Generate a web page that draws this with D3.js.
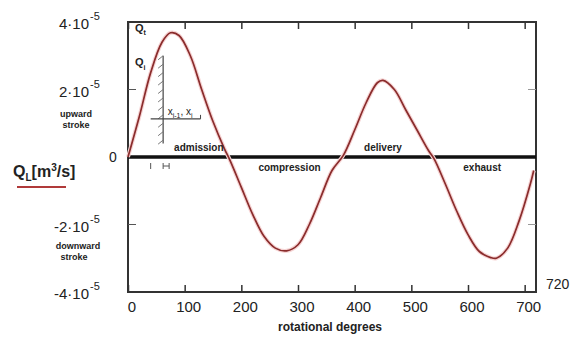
<!DOCTYPE html>
<html>
<head>
<meta charset="utf-8">
<script src="https://cdn.jsdelivr.net/npm/d3@7"></script>
<style>
  body { margin: 0; background: #fff; }
  text { font-family: "Liberation Sans", Arial, sans-serif; fill: #222; }
</style>
</head>
<body>
<div id="chart"></div>
<script>
// rotational degrees and flow rate (units of 1e-5 m^3/s)
const degrees = [0, 20, 40, 60, 75, 90, 110, 130, 150, 170, 180, 200, 220, 240, 260, 280, 300, 320, 340, 360,
  380, 400, 420, 440, 450, 470, 490, 510, 530, 540, 560, 580, 600, 620, 640, 650, 670, 690, 710, 716];
const flow = [0, 1.2, 2.5, 3.4, 3.68, 3.6, 3.0, 2.0, 1.05, 0.25, -0.1, -0.9, -1.7, -2.35, -2.7, -2.78, -2.6, -2.0, -1.2, -0.4,
  0.05, 0.8, 1.6, 2.2, 2.27, 2.0, 1.4, 0.8, 0.2, -0.05, -0.8, -1.6, -2.3, -2.8, -2.98, -3.0, -2.7, -1.9, -0.8, -0.4];
const xTicks = [0, 100, 200, 300, 400, 500, 600, 700];
const yTicks = [4, 2, 0, -2, -4];
const phases = [
  { name: "admission", deg: 125, side: "up" },
  { name: "compression", deg: 285, side: "down" },
  { name: "delivery", deg: 450, side: "up" },
  { name: "exhaust", deg: 625, side: "down" }
];

const width = 572, height = 343;
const svg = d3.select("#chart").append("svg")
  .attr("width", width).attr("height", height);

const x = d3.scaleLinear().domain([0, 720]).range([128, 536]);
const y = d3.scaleLinear().domain([-4, 4]).range([292, 22]);

// frame
svg.append("rect")
  .attr("x", x(0)).attr("y", y(4))
  .attr("width", x(720) - x(0)).attr("height", y(-4) - y(4))
  .attr("fill", "none").attr("stroke", "#333").attr("stroke-width", 2);

// bottom and top ticks, pointing inward
svg.append("g")
  .attr("transform", `translate(0,${y(-4)})`)
  .call(d3.axisBottom(x).tickValues(xTicks).tickSize(-7).tickFormat(""))
  .call(g => g.select(".domain").remove());
svg.append("g")
  .attr("transform", `translate(0,${y(4)})`)
  .call(d3.axisTop(x).tickValues(xTicks).tickSize(-7).tickFormat(""))
  .call(g => g.select(".domain").remove());
svg.selectAll(".tick line").attr("stroke", "#333").attr("stroke-width", 1.5);

// y ticks on both sides
[2, -2].forEach(v => {
  svg.append("line").attr("x1", x(0)).attr("x2", x(0) + 8)
    .attr("y1", y(v)).attr("y2", y(v)).attr("stroke", "#555");
  svg.append("line").attr("x1", x(720)).attr("x2", x(720) - 8)
    .attr("y1", y(v)).attr("y2", y(v)).attr("stroke", "#999");
});

// x tick labels
svg.selectAll("text.xlab")
  .data(xTicks)
  .enter()
  .append("text")
  .attr("class", "xlab")
  .attr("x", d => x(d) + 4)
  .attr("y", 312)
  .attr("text-anchor", "middle")
  .attr("font-size", 15)
  .text(d => d);

svg.append("text")
  .attr("x", 546).attr("y", 289)
  .attr("font-size", 14)
  .text("720");

// y tick labels with exponent
yTicks.forEach(v => {
  if (v === 0) {
    svg.append("text").attr("x", 113).attr("y", y(0) + 5)
      .attr("text-anchor", "middle").attr("font-size", 14).text("0");
    return;
  }
  svg.append("text")
    .attr("x", 89).attr("y", y(v) + 7)
    .attr("text-anchor", "end").attr("font-size", 15)
    .text((v < 0 ? "-" : "") + Math.abs(v) + "\u00b710");
  svg.append("text")
    .attr("x", 90).attr("y", y(v) - 2)
    .attr("font-size", 11).text("-5");
});

// zero line
svg.append("line")
  .attr("x1", x(0)).attr("x2", x(720))
  .attr("y1", y(0)).attr("y2", y(0))
  .attr("stroke", "#111").attr("stroke-width", 3.5);

// curve
const line = d3.line()
  .x((d, i) => x(degrees[i]))
  .y(d => y(d))
  .curve(d3.curveCatmullRom);
svg.append("path")
  .datum(flow)
  .attr("d", line)
  .attr("fill", "none")
  .attr("stroke", "#f6d4d4")
  .attr("stroke-width", 4);
svg.append("path")
  .datum(flow)
  .attr("d", line)
  .attr("fill", "none")
  .attr("stroke", "#8a2c2c")
  .attr("stroke-width", 1.7);

// hatched strip under the first peak
const hx = x(62);
svg.append("line").attr("x1", hx).attr("x2", hx)
  .attr("y1", y(3.0)).attr("y2", y(0.4))
  .attr("stroke", "#444").attr("stroke-width", 1.2);
d3.range(3.0, 0.4, -0.25).forEach(v => {
  svg.append("line")
    .attr("x1", hx - 5).attr("x2", hx)
    .attr("y1", y(v) + 4).attr("y2", y(v))
    .attr("stroke", "#777").attr("stroke-width", 1);
});
svg.append("line")
  .attr("x1", x(40)).attr("x2", x(128))
  .attr("y1", y(1.13)).attr("y2", y(1.13))
  .attr("stroke", "#444").attr("stroke-width", 1.2);
svg.append("line")
  .attr("x1", x(128)).attr("x2", x(128))
  .attr("y1", y(1.13)).attr("y2", y(1.13) - 4)
  .attr("stroke", "#444");
const xi = svg.append("text").attr("x", x(70)).attr("y", y(1.13) - 4).attr("font-size", 10);
xi.append("tspan").text("x");
xi.append("tspan").attr("font-size", 7).attr("dy", 3).text("i-1");
xi.append("tspan").attr("dy", -3).text(", x");
xi.append("tspan").attr("font-size", 7).attr("dy", 3).text("i");

// Q labels
const qt = svg.append("text").attr("x", 135).attr("y", y(3.7)).attr("font-size", 11).attr("font-weight", "bold");
qt.append("tspan").text("Q");
qt.append("tspan").attr("font-size", 7).attr("dy", 3).text("t");
const qi = svg.append("text").attr("x", 135).attr("y", y(2.7)).attr("font-size", 11).attr("font-weight", "bold");
qi.append("tspan").text("Q");
qi.append("tspan").attr("font-size", 7).attr("dy", 4).text("i");

// small delta marks below the zero line
const my = y(0) + 9;
[[x(40), x(40)], [hx, hx + 6]].forEach(([a, b]) => {
  svg.append("line").attr("x1", a).attr("x2", a).attr("y1", my - 3).attr("y2", my + 3).attr("stroke", "#555");
  if (b !== a) {
    svg.append("line").attr("x1", b).attr("x2", b).attr("y1", my - 3).attr("y2", my + 3).attr("stroke", "#555");
    svg.append("line").attr("x1", a).attr("x2", b).attr("y1", my).attr("y2", my).attr("stroke", "#555");
  }
});

// phase names
svg.selectAll("text.phase")
  .data(phases)
  .enter()
  .append("text")
  .attr("class", "phase")
  .attr("x", d => x(d.deg))
  .attr("y", d => d.side === "up" ? y(0) - 6 : y(0) + 14)
  .attr("text-anchor", "middle")
  .attr("font-size", 10)
  .attr("font-weight", "bold")
  .text(d => d.name);

// left side labels
svg.append("text").attr("x", 76).attr("y", 117).attr("text-anchor", "middle")
  .attr("font-size", 9).attr("font-weight", "bold").text("upward");
svg.append("text").attr("x", 76).attr("y", 128).attr("text-anchor", "middle")
  .attr("font-size", 9).attr("font-weight", "bold").text("stroke");
svg.append("text").attr("x", 78).attr("y", 249).attr("text-anchor", "middle")
  .attr("font-size", 9).attr("font-weight", "bold").text("downward");
svg.append("text").attr("x", 74).attr("y", 260).attr("text-anchor", "middle")
  .attr("font-size", 9).attr("font-weight", "bold").text("stroke");

const ql = svg.append("text").attr("x", 13).attr("y", 177).attr("font-size", 16).attr("font-weight", "bold");
ql.append("tspan").text("Q");
ql.append("tspan").attr("font-size", 10).attr("dy", 4).text("L");
ql.append("tspan").attr("dy", -4).text("[m");
ql.append("tspan").attr("font-size", 10).attr("dy", -6).text("3");
ql.append("tspan").attr("dy", 6).text("/s]");
svg.append("line").attr("x1", 17).attr("x2", 66).attr("y1", 187).attr("y2", 187)
  .attr("stroke", "#b03a3a").attr("stroke-width", 2);

// x axis title
svg.append("text")
  .attr("x", 330).attr("y", 331)
  .attr("text-anchor", "middle")
  .attr("font-size", 12)
  .attr("font-weight", "bold")
  .text("rotational degrees");
</script>
</body>
</html>
